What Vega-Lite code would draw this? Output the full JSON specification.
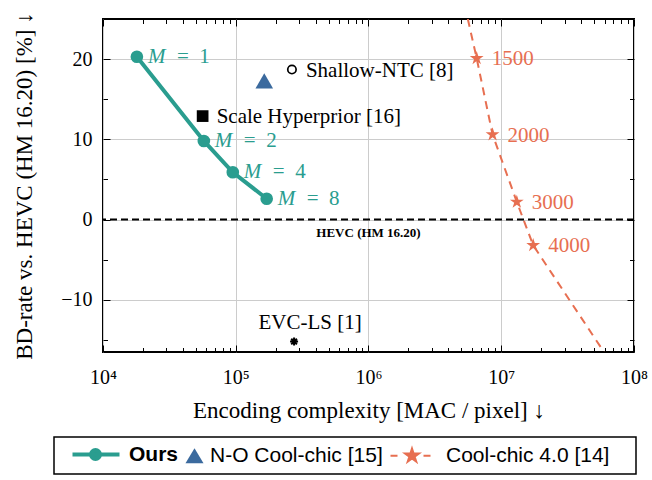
{
  "$schema": "https://vega.github.io/schema/vega-lite/v6.json",
  "width": 531,
  "height": 333,
  "autosize": {"type": "none"},
  "padding": {"left": 103, "top": 19, "right": 18, "bottom": 128},
  "config": {
    "view": {"stroke": "black", "strokeWidth": 2},
    "font": "Liberation Serif",
    "axis": {
      "labelFont": "Liberation Serif", "titleFont": "Liberation Serif",
      "labelFontSize": 20, "titleFontSize": 23, "labelColor": "black", "titleColor": "black",
      "titleFontWeight": "normal", "domain": false, "tickColor": "black", "tickWidth": 1,
      "gridColor": "#cccccc", "gridWidth": 1, "labelFlush": false, "labelOverlap": false
    }
  },
  "datasets": {
    "ours": [
      {"x": 18000, "y": 20.3, "series": "Ours", "m": "=\u20021"},
      {"x": 57500, "y": 9.8, "series": "Ours", "m": "=\u20022"},
      {"x": 95000, "y": 5.9, "series": "Ours", "m": "=\u20024"},
      {"x": 171000, "y": 2.6, "series": "Ours", "m": "=\u20028"}
    ],
    "cool": [
      {"x": 6530000, "y": 20.1, "series": "Cool-chic 4.0 [14]", "label": "1500"},
      {"x": 8600000, "y": 10.6, "series": "Cool-chic 4.0 [14]", "label": "2000"},
      {"x": 13100000, "y": 2.2, "series": "Cool-chic 4.0 [14]", "label": "3000"},
      {"x": 17400000, "y": -3.2, "series": "Cool-chic 4.0 [14]", "label": "4000"}
    ],
    "coolLine": [
      {"x": 5600000, "y": 25, "series": "Cool-chic 4.0 [14]"},
      {"x": 6530000, "y": 20.1, "series": "Cool-chic 4.0 [14]"},
      {"x": 8600000, "y": 10.6, "series": "Cool-chic 4.0 [14]"},
      {"x": 13100000, "y": 2.2, "series": "Cool-chic 4.0 [14]"},
      {"x": 17400000, "y": -3.2, "series": "Cool-chic 4.0 [14]"},
      {"x": 59400000, "y": -16.5, "series": "Cool-chic 4.0 [14]"}
    ],
    "nocc": [
      {"x": 164000, "y": 17.3, "series": "N-O Cool-chic [15]"}
    ],
    "refs": [
      {"x": 265000, "y": 18.7, "name": "Shallow-NTC [8]", "kind": "circle"},
      {"x": 56300, "y": 12.9, "name": "Scale Hyperprior [16]", "kind": "square"},
      {"x": 275000, "y": -15.2, "name": "EVC-LS [1]", "kind": "ast"}
    ],
    "hevc": [{"y": 0, "x": 1000000, "name": "HEVC (HM 16.20)"}]
  },
  "layer": [
    {
      "data": {"name": "hevc"},
      "mark": {"type": "rule", "color": "black", "strokeWidth": 2, "strokeDash": [7, 4]},
      "encoding": {
        "y": {"field": "y", "type": "quantitative", "scale": {"domain": [-16.5, 25], "nice": false, "zero": false}, "axis": null}
      }
    },
    {
      "data": {"name": "hevc"},
      "mark": {"type": "text", "font": "Liberation Serif", "fontWeight": "bold", "fontSize": 13, "color": "black", "align": "center", "baseline": "middle", "dy": 13},
      "encoding": {
        "x": {"field": "x", "type": "quantitative", "scale": {"type": "log", "domain": [10000, 100000000]}, "axis": null},
        "y": {"field": "y", "type": "quantitative", "scale": {"domain": [-16.5, 25], "nice": false, "zero": false}, "axis": null},
        "text": {"field": "name"}
      }
    },
    {
      "data": {"name": "ours"},
      "mark": {"type": "line", "strokeWidth": 4},
      "encoding": {
        "x": {"field": "x", "type": "quantitative", "scale": {"type": "log", "domain": [10000, 100000000]},
          "axis": {"orient": "bottom", "values": [10000, 100000, 1000000, 10000000, 100000000], "grid": true, "offset": -7, "tickSize": 7, "labelPadding": 15,
            "labelExpr": "datum.value == 10000 ? '10⁴' : datum.value == 100000 ? '10⁵' : datum.value == 1000000 ? '10⁶' : datum.value == 10000000 ? '10⁷' : '10⁸'",
            "title": "Encoding complexity [MAC / pixel] ↓", "titlePadding": 12}},
        "y": {"field": "y", "type": "quantitative", "scale": {"domain": [-16.5, 25], "nice": false, "zero": false},
          "axis": {"orient": "left", "values": [-10, 0, 10, 20], "grid": true, "offset": -7, "tickSize": 7, "labelPadding": 11,
            "labelExpr": "replace(datum.label, '-', '−')", "title": "BD-rate vs. HEVC (HM 16.20) [%] ↓", "titlePadding": 24}},
        "color": {"field": "series", "type": "nominal",
          "scale": {"domain": ["", "Ours", "N-O Cool-chic [15]", "Cool-chic 4.0 [14]"], "range": ["#ffffff", "#2a9d8f", "#3b6a9e", "#e76f51"]},
          "legend": {
            "title": null, "orient": "none", "legendX": -49, "legendY": 418, "direction": "horizontal",
            "strokeColor": "black", "padding": 7, "labelFont": "Liberation Sans", "labelFontSize": 21, "labelColor": "black", "labelLimit": 400,
            "symbolSize": 100, "symbolOffset": 0, "labelOffset": -18, "columnPadding": 0,
            "encode": {
              "legend": {"update": {"strokeWidth": {"value": 1.5}}},
              "labels": {"update": {"fontWeight": {"signal": "datum.label === 'Ours' ? 'bold' : 'normal'"}}},
              "symbols": {"update": {
                "shape": {"signal": "datum.value === '' ? 'M-1.8,0' : datum.value === 'Ours' ? 'M-12.8,0H-3.4M-7.3,0A0.9,0.9 0 1,1 -9.1,0A0.9,0.9 0 1,1 -7.3,0Z' : datum.value === 'N-O Cool-chic [15]' ? 'M-7.6,0M-4.6,-1.5L-2.8,1.5L-6.4,1.5Z' : 'M-13.2,0M34.2,0M-12.6,0H-11.2M-6.0,0H-4.6M-8.3,-1.45L-7.977,-0.445L-6.92,-0.448L-7.777,0.17L-7.447,1.173L-8.3,0.55L-9.153,1.173L-8.823,0.17L-9.68,-0.448L-8.623,-0.445Z'"},
                "size": {"value": 100},
                "fill": {"signal": "scale('color', datum.value)"},
                "stroke": {"signal": "scale('color', datum.value)"},
                "strokeWidth": {"signal": "datum.value === 'Ours' ? 4 : datum.value === 'Cool-chic 4.0 [14]' ? 2 : 0"},
                "strokeDash": {"value": []},
                "opacity": {"value": 1},
                "fillOpacity": {"value": 1}
              }}
            }
          }
        }
      }
    },
    {
      "data": {"name": "ours"},
      "mark": {"type": "point", "shape": "circle", "filled": true, "size": 160, "opacity": 1},
      "encoding": {
        "x": {"field": "x", "type": "quantitative", "scale": {"type": "log", "domain": [10000, 100000000]},
          "axis": {"orient": "top", "values": [10000, 100000, 1000000, 10000000, 100000000], "grid": false, "labels": false, "offset": -7, "tickSize": 7, "title": null}},
        "y": {"field": "y", "type": "quantitative", "scale": {"domain": [-16.5, 25], "nice": false, "zero": false},
          "axis": {"orient": "right", "values": [-10, 0, 10, 20], "grid": false, "labels": false, "offset": -7, "tickSize": 7, "title": null}},
        "color": {"field": "series", "type": "nominal"}
      }
    },
    {
      "data": {"name": "coolLine"},
      "mark": {"type": "line", "strokeWidth": 2, "strokeDash": [8, 6], "clip": true},
      "encoding": {
        "x": {"field": "x", "type": "quantitative", "scale": {"type": "log", "domain": [10000, 100000000]},
          "axis": {"orient": "bottom", "values": [20000, 30000, 40000, 50000, 60000, 70000, 80000, 90000, 200000, 300000, 400000, 500000, 600000, 700000, 800000, 900000, 2000000, 3000000, 4000000, 5000000, 6000000, 7000000, 8000000, 9000000, 20000000, 30000000, 40000000, 50000000, 60000000, 70000000, 80000000, 90000000], "grid": false, "labels": false, "offset": -4.5, "tickSize": 4.5, "title": null}},
        "y": {"field": "y", "type": "quantitative", "scale": {"domain": [-16.5, 25], "nice": false, "zero": false},
          "axis": {"orient": "left", "values": [-15, -5, 5, 15], "grid": false, "labels": false, "offset": -4.5, "tickSize": 4.5, "title": null}},
        "color": {"field": "series", "type": "nominal"}
      }
    },
    {
      "data": {"name": "cool"},
      "mark": {"type": "point", "shape": "M0,-1L0.225,-0.309L0.951,-0.309L0.363,0.118L0.588,0.809L0,0.382L-0.588,0.809L-0.363,0.118L-0.951,-0.309L-0.225,-0.309Z", "filled": true, "size": 210, "opacity": 1},
      "encoding": {
        "x": {"field": "x", "type": "quantitative", "scale": {"type": "log", "domain": [10000, 100000000]},
          "axis": {"orient": "top", "values": [20000, 30000, 40000, 50000, 60000, 70000, 80000, 90000, 200000, 300000, 400000, 500000, 600000, 700000, 800000, 900000, 2000000, 3000000, 4000000, 5000000, 6000000, 7000000, 8000000, 9000000, 20000000, 30000000, 40000000, 50000000, 60000000, 70000000, 80000000, 90000000], "grid": false, "labels": false, "offset": -4.5, "tickSize": 4.5, "title": null}},
        "y": {"field": "y", "type": "quantitative", "scale": {"domain": [-16.5, 25], "nice": false, "zero": false},
          "axis": {"orient": "right", "values": [-15, -5, 5, 15], "grid": false, "labels": false, "offset": -4.5, "tickSize": 4.5, "title": null}},
        "color": {"field": "series", "type": "nominal"}
      }
    },
    {
      "data": {"name": "nocc"},
      "mark": {"type": "point", "shape": "triangle-up", "filled": true, "size": 310, "opacity": 1},
      "encoding": {
        "x": {"field": "x", "type": "quantitative", "scale": {"type": "log", "domain": [10000, 100000000]}, "axis": null},
        "y": {"field": "y", "type": "quantitative", "scale": {"domain": [-16.5, 25], "nice": false, "zero": false}, "axis": null},
        "color": {"field": "series", "type": "nominal"}
      }
    },
    {
      "data": {"name": "refs"},
      "transform": [{"filter": "datum.kind === 'circle'"}],
      "mark": {"type": "point", "shape": "circle", "filled": false, "size": 70, "stroke": "black", "strokeWidth": 1.7, "fill": "white", "opacity": 1},
      "encoding": {
        "x": {"field": "x", "type": "quantitative", "scale": {"type": "log", "domain": [10000, 100000000]}, "axis": null},
        "y": {"field": "y", "type": "quantitative", "scale": {"domain": [-16.5, 25], "nice": false, "zero": false}, "axis": null}
      }
    },
    {
      "data": {"name": "refs"},
      "transform": [{"filter": "datum.kind === 'square'"}],
      "mark": {"type": "point", "shape": "square", "filled": true, "size": 137, "color": "black", "opacity": 1},
      "encoding": {
        "x": {"field": "x", "type": "quantitative", "scale": {"type": "log", "domain": [10000, 100000000]}, "axis": null},
        "y": {"field": "y", "type": "quantitative", "scale": {"domain": [-16.5, 25], "nice": false, "zero": false}, "axis": null}
      }
    },
    {
      "data": {"name": "refs"},
      "transform": [{"filter": "datum.kind === 'ast'"}],
      "mark": {"type": "point", "shape": "M-1,0H1M0,-1V1M-0.71,-0.71L0.71,0.71M-0.71,0.71L0.71,-0.71", "filled": false, "size": 64, "stroke": "black", "strokeWidth": 2, "opacity": 1},
      "encoding": {
        "x": {"field": "x", "type": "quantitative", "scale": {"type": "log", "domain": [10000, 100000000]}, "axis": null},
        "y": {"field": "y", "type": "quantitative", "scale": {"domain": [-16.5, 25], "nice": false, "zero": false}, "axis": null}
      }
    },
    {
      "data": {"name": "refs"},
      "transform": [{"filter": "datum.kind !== 'ast'"}],
      "mark": {"type": "text", "font": "Liberation Serif", "fontSize": 21, "color": "black", "align": "left", "baseline": "middle", "dx": 14, "dy": 1},
      "encoding": {
        "x": {"field": "x", "type": "quantitative", "scale": {"type": "log", "domain": [10000, 100000000]}, "axis": null},
        "y": {"field": "y", "type": "quantitative", "scale": {"domain": [-16.5, 25], "nice": false, "zero": false}, "axis": null},
        "text": {"field": "name"}
      }
    },
    {
      "data": {"name": "refs"},
      "transform": [{"filter": "datum.kind === 'ast'"}],
      "mark": {"type": "text", "font": "Liberation Serif", "fontSize": 21, "color": "black", "align": "center", "baseline": "middle", "dx": 16, "dy": -19},
      "encoding": {
        "x": {"field": "x", "type": "quantitative", "scale": {"type": "log", "domain": [10000, 100000000]}, "axis": null},
        "y": {"field": "y", "type": "quantitative", "scale": {"domain": [-16.5, 25], "nice": false, "zero": false}, "axis": null},
        "text": {"field": "name"}
      }
    },
    {
      "data": {"name": "ours"},
      "mark": {"type": "text", "font": "Liberation Serif", "fontStyle": "italic", "fontSize": 21, "color": "#2a9d8f", "align": "left", "baseline": "alphabetic", "dx": 11, "dy": 6},
      "encoding": {
        "x": {"field": "x", "type": "quantitative", "scale": {"type": "log", "domain": [10000, 100000000]}, "axis": null},
        "y": {"field": "y", "type": "quantitative", "scale": {"domain": [-16.5, 25], "nice": false, "zero": false}, "axis": null},
        "text": {"value": "M"}
      }
    },
    {
      "data": {"name": "ours"},
      "mark": {"type": "text", "font": "Liberation Serif", "fontSize": 21, "color": "#2a9d8f", "align": "left", "baseline": "alphabetic", "dx": 40, "dy": 6},
      "encoding": {
        "x": {"field": "x", "type": "quantitative", "scale": {"type": "log", "domain": [10000, 100000000]}, "axis": null},
        "y": {"field": "y", "type": "quantitative", "scale": {"domain": [-16.5, 25], "nice": false, "zero": false}, "axis": null},
        "text": {"field": "m"}
      }
    },
    {
      "data": {"name": "cool"},
      "mark": {"type": "text", "font": "Liberation Serif", "fontSize": 21, "color": "#e76f51", "align": "left", "baseline": "middle", "dx": 15, "dy": 1},
      "encoding": {
        "x": {"field": "x", "type": "quantitative", "scale": {"type": "log", "domain": [10000, 100000000]}, "axis": null},
        "y": {"field": "y", "type": "quantitative", "scale": {"domain": [-16.5, 25], "nice": false, "zero": false}, "axis": null},
        "text": {"field": "label"}
      }
    }
  ],
  "resolve": {"axis": {"x": "independent", "y": "independent"}}
}
